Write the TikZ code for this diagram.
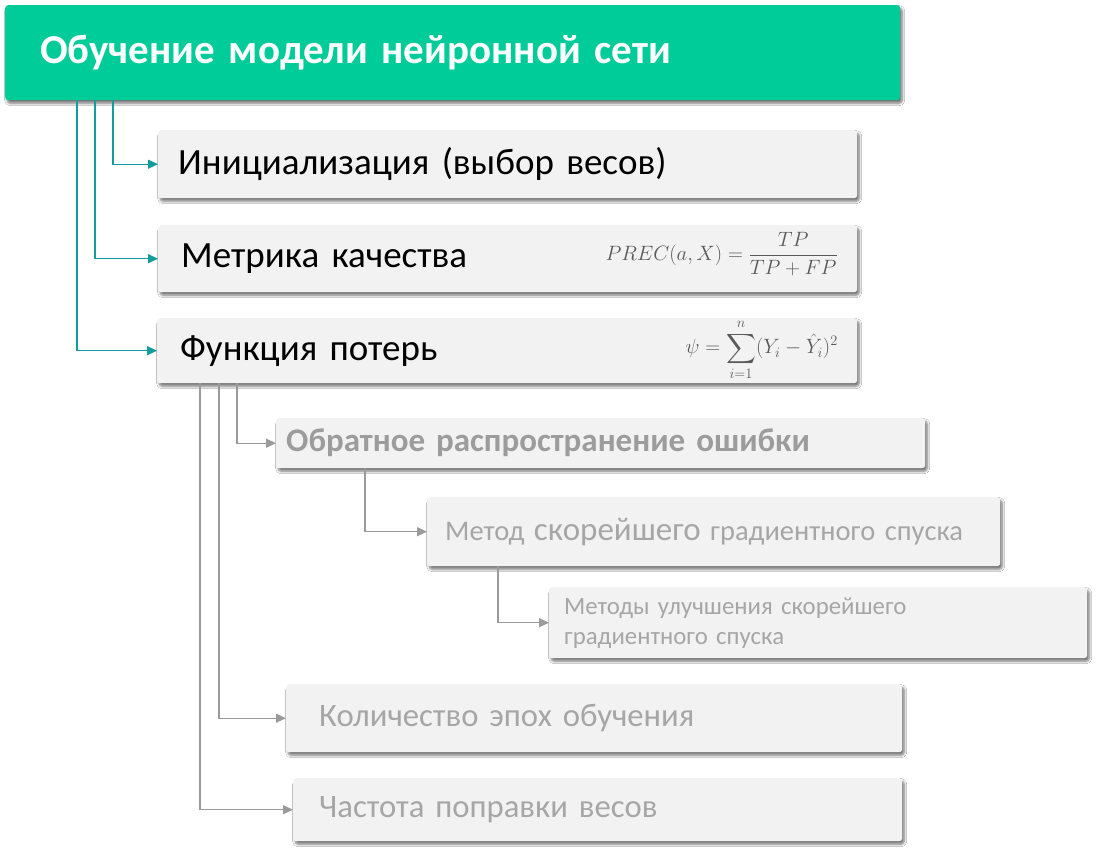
\documentclass[tikz,border=0pt]{standalone}
\usepackage{fontspec}
\setmainfont{Carlito}
\usepackage{amsmath}
\usetikzlibrary{shadows,shadows.blur,arrows.meta}
\definecolor{titlegreen}{HTML}{00CC99}
\definecolor{tealline}{HTML}{129C9C}
\definecolor{boxgray}{HTML}{F2F2F2}
\definecolor{lightline}{HTML}{9A9A9A}
\definecolor{lighttext}{HTML}{A6A6A6}
\definecolor{boldtext}{HTML}{9C9C9C}
\definecolor{mathgray}{HTML}{595959}
\begin{document}
\begin{tikzpicture}[x=1pt,y=-1pt,
  box/.style={rectangle, rounded corners=3pt, fill=boxgray, draw=none, anchor=north west,
    align=left, inner ysep=0pt,
    blur shadow={shadow xshift=2pt, shadow yshift=-3pt, shadow blur radius=2.5pt,
      shadow blur steps=6, shadow opacity=55}},
  tbox/.style={box, fill=titlegreen, text=white},
  tconn/.style={draw=tealline, line width=1.3pt, -{Triangle[length=10pt,width=9pt]}, fill=none},
  gconn/.style={draw=lightline, line width=1.3pt, -{Triangle[length=10pt,width=9pt]}, fill=none},
  mathnode/.style={anchor=east, inner sep=0pt, text=mathgray}
]
\useasboundingbox[fill=white] (0,0) rectangle (1101,855);

\node[tbox, minimum width=895pt, minimum height=95pt, text width=855pt, inner xsep=20pt,
  font=\fontsize{41}{48}\selectfont\bfseries] (title) at (5,5) {\hspace*{15pt}Обучение модели нейронной сети};

\node[box, minimum width=699pt, minimum height=68pt, text width=679pt, inner xsep=10pt,
  font=\fontsize{37}{44}\selectfont] (init) at (158,130) {\hspace*{10pt}Инициализация (выбор весов)};

\node[box, minimum width=699pt, minimum height=67pt, text width=679pt, inner xsep=10pt,
  font=\fontsize{37}{44}\selectfont] (metric) at (158,225) {\hspace*{13pt}Метрика качества};
\node[mathnode, font=\fontsize{21}{25}\selectfont] (f1) at (838,254)
  {$\displaystyle PREC(a,X) = \frac{TP}{TP+FP}$};

\node[box, minimum width=700pt, minimum height=65pt, text width=680pt, inner xsep=10pt,
  font=\fontsize{37}{44}\selectfont] (loss) at (157,318) {\hspace*{13pt}Функция потерь};
\node[mathnode, font=\fontsize{21}{25}\selectfont] (f2) at (838,350)
  {$\displaystyle \psi = \sum_{i=1}^{n} (Y_i - \hat{Y}_i)^2$};

\node[box, minimum width=649pt, minimum height=50pt, text width=629pt, inner xsep=10pt,
  text=boldtext, font=\fontsize{33}{38}\selectfont\bfseries] (back) at (276,418) {Обратное распространение ошибки};

\node[box, minimum width=573pt, minimum height=69pt, text width=543pt, inner xsep=15pt,
  text=lighttext, font=\fontsize{28.5}{34}\selectfont] (grad) at (427,497)
  {\hspace*{3pt}Метод {\fontsize{33}{38}\selectfont скорейшего} градиентного спуска};

\node[box, minimum width=538pt, minimum height=71pt, text width=508pt, inner xsep=15pt,
  text=lighttext, font=\fontsize{24.8}{30}\selectfont] (impr) at (549,587)
  {Методы улучшения скорейшего\\градиентного спуска};

\node[box, minimum width=616pt, minimum height=68pt, text width=586pt, inner xsep=15pt,
  text=lighttext, font=\fontsize{32.7}{38}\selectfont] (epoch) at (286,684) {\hspace*{18pt}Количество эпох обучения};

\node[box, minimum width=609pt, minimum height=63pt, text width=579pt, inner xsep=15pt,
  text=lighttext, font=\fontsize{32.7}{38}\selectfont] (freq) at (293,778) {\hspace*{11pt}Частота поправки весов};

\draw[tconn] (title.south west) ++(108,0) |- (init.west);
\draw[tconn] (title.south west) ++(90,0) |- (metric.west);
\draw[tconn] (title.south west) ++(72,0) |- (loss.west);

\draw[gconn] (loss.south west) ++(80,0) |- (back.west);
\draw[gconn] (loss.south west) ++(62,0) |- (epoch.west);
\draw[gconn] (loss.south west) ++(43,0) |- (freq.west);
\draw[gconn] (back.south west) ++(89,0) |- (grad.west);
\draw[gconn] (grad.south west) ++(71,0) |- (impr.west);
\end{tikzpicture}
\end{document}
